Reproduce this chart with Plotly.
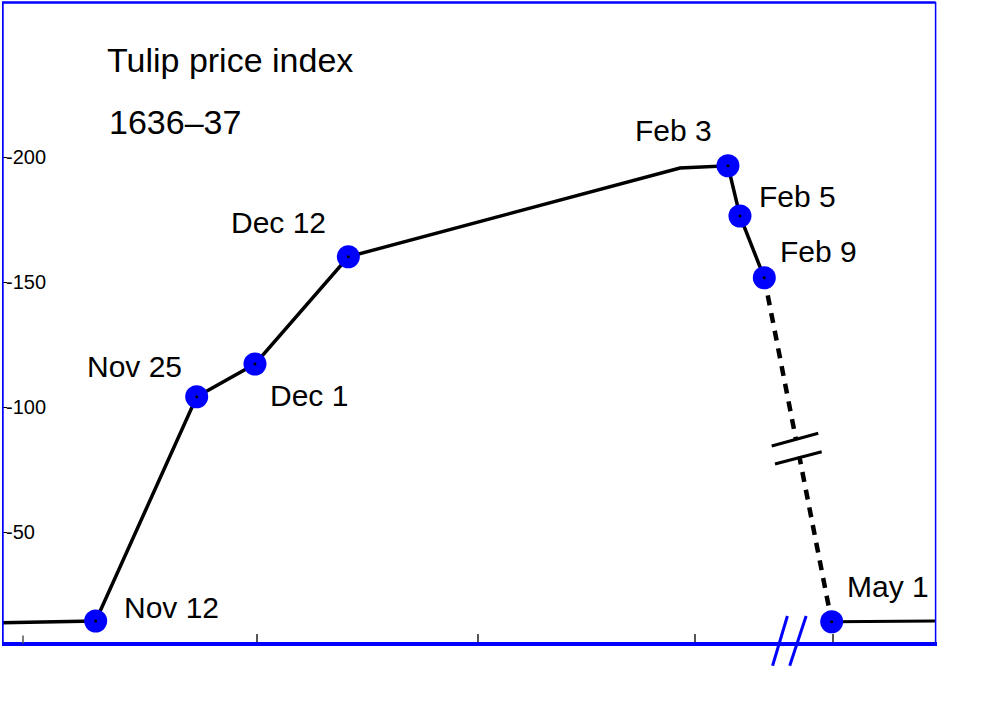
import plotly.graph_objects as go

# ---- data (schematic timeline: ~days since Nov 1, 1636; index values) ----
point_labels = ["Nov 12", "Nov 25", "Dec 1", "Dec 12", "Feb 3", "Feb 5", "Feb 9", "May 1"]
point_x = [9.32, 22.27, 29.74, 41.71, 90.38, 91.92, 95.04, 103.68]
point_y = [14.4, 104.1, 117.2, 160.1, 196.5, 176.4, 151.7, 14.1]

# solid path before the crash (includes lead-in and a bend before Feb 3)
solid_x = [-2.7, 9.32, 22.27, 29.74, 41.71, 84.23, 90.38, 91.92, 95.04]
solid_y = [13.7, 14.4, 104.1, 117.2, 160.1, 195.6, 196.5, 176.4, 151.7]
# dashed crash segment
dash_x = [95.04, 103.68]
dash_y = [151.7, 14.1]
# tail after May 1
tail_x = [103.68, 116.92]
tail_y = [14.1, 14.4]

y_ticks = [50, 100, 150, 200]
y_ticktext = ["-50", "-100", "-150", "-200"]
x_ticks = [0, 30, 58.33, 86.15, 103.85]

# label offsets (px) relative to the points
label_dx = [26, -13, 13, -20, -14, 17, 14, 13]
label_dy = [-12, -28, 33, -32, -33, -18, -24, -33]
label_anchor = ["left", "right", "left", "right", "right", "left", "left", "left"]

FONT = "Liberation Sans, Arial, sans-serif"
BLUE = "#0000ff"
AXIS_Y = 5.4  # value level of the bottom axis line

fig = go.Figure()
fig.add_trace(go.Scatter(x=solid_x, y=solid_y, mode="lines",
                         line=dict(color="black", width=3.5), hoverinfo="skip"))
fig.add_trace(go.Scatter(x=dash_x, y=dash_y, mode="lines",
                         line=dict(color="black", width=4.5, dash="10px,8px"), hoverinfo="skip"))
fig.add_trace(go.Scatter(x=tail_x, y=tail_y, mode="lines",
                         line=dict(color="black", width=3), hoverinfo="skip"))
fig.add_trace(go.Scatter(x=point_x, y=point_y, mode="markers",
                         marker=dict(color=BLUE, size=23, line=dict(width=0)), hoverinfo="skip"))
fig.add_trace(go.Scatter(x=point_x, y=point_y, mode="markers",
                         marker=dict(color="black", size=3, line=dict(width=0)), hoverinfo="skip"))

for lab, x, y, dx, dy, anc in zip(point_labels, point_x, point_y, label_dx, label_dy, label_anchor):
    fig.add_annotation(x=x, y=y, xref="x", yref="y", text=lab, showarrow=False,
                       xanchor=anc, yanchor="middle", xshift=dx, yshift=-dy + 2,
                       font=dict(family=FONT, size=30, color="black"))

fig.add_annotation(x=0.110, y=0.9115, xref="paper", yref="paper", text="Tulip price index",
                   showarrow=False, xanchor="left", yanchor="middle", yshift=2,
                   font=dict(family=FONT, size=34, color="black"))
fig.add_annotation(x=0.112, y=0.8237, xref="paper", yref="paper", text="1636–37",
                   showarrow=False, xanchor="left", yanchor="middle", yshift=2,
                   font=dict(family=FONT, size=34, color="black"))

shapes = []
# frame (left, top, right)
shapes.append(dict(type="line", xref="x", yref="y", x0=-2.63, x1=-2.63, y0=4.8, y1=262.0,
                   line=dict(color=BLUE, width=2.5)))
shapes.append(dict(type="line", xref="x", yref="y", x0=-2.7, x1=117.0, y0=261.8, y1=261.8,
                   line=dict(color=BLUE, width=2.5)))
shapes.append(dict(type="line", xref="x", yref="y", x0=117.0, x1=117.0, y0=4.6, y1=262.0,
                   line=dict(color=BLUE, width=1.5)))
# first x tick (may be hidden by the inside y labels logic)
shapes.append(dict(type="line", xref="x", yref="y", x0=x_ticks[0], x1=x_ticks[0],
                   y0=AXIS_Y, y1=AXIS_Y + 3.2, line=dict(color="#555555", width=1.5)))
# break in dashed line: white gap then two bars
shapes.append(dict(type="path", xref="x", yref="y", layer="above",
                   path="M 96.2,84.0 L 101.9,89.2 L 102.2,82.6 L 96.5,77.6 Z",
                   fillcolor="white", line=dict(width=0)))
shapes.append(dict(type="line", xref="x", yref="y", x0=95.99, y0=84.4, x1=101.96, y1=89.5,
                   line=dict(color="black", width=3)))
shapes.append(dict(type="line", xref="x", yref="y", x0=96.41, y0=77.2, x1=102.4, y1=82.1,
                   line=dict(color="black", width=3)))
# axis break slashes
shapes.append(dict(type="line", xref="x", yref="y", x0=96.1, y0=-3.5, x1=98.0, y1=16.4,
                   line=dict(color=BLUE, width=3)))
shapes.append(dict(type="line", xref="x", yref="y", x0=98.3, y0=-3.5, x1=100.4, y1=16.4,
                   line=dict(color=BLUE, width=3)))

fig.update_layout(
    width=1000, height=706,
    margin=dict(l=2, r=63, t=0, b=0),
    paper_bgcolor="white", plot_bgcolor="white",
    showlegend=False,
    shapes=shapes,
    xaxis=dict(range=[-2.692, 117.18], anchor="free", position=0.0885,
               showline=True, linecolor=BLUE, linewidth=4,
               tickmode="array", tickvals=x_ticks, ticks="inside", ticklen=8,
               tickcolor="#555555", tickwidth=1.5,
               showticklabels=False, showgrid=False, zeroline=False, fixedrange=True),
    yaxis=dict(range=[-19.6, 262.8], showline=False,
               tickmode="array", tickvals=y_ticks, ticktext=y_ticktext,
               ticks="inside", ticklen=5,
               tickcolor="black", tickwidth=1, ticklabelposition="inside",
               tickfont=dict(family=FONT, size=20, color="black"),
               showgrid=False, zeroline=False, fixedrange=True),
)

fig.write_html("out.html", config={"displayModeBar": False},
               post_script="document.body.style.margin='0';document.body.style.overflow='hidden';")
